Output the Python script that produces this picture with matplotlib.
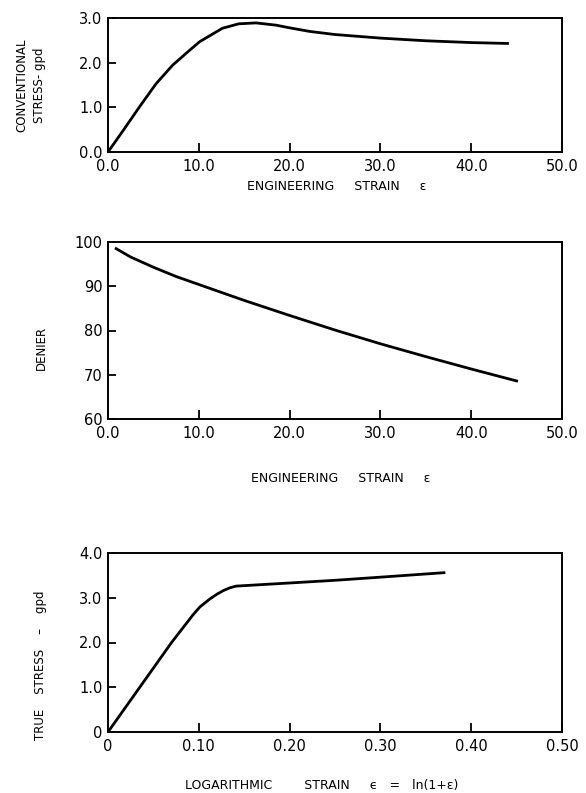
import matplotlib
matplotlib.use("Agg")
import matplotlib.pyplot as plt
import numpy as np

# top panel: conventional stress vs engineering strain
eng_strain = [0, 1.7, 3.5, 5.3, 7.1, 9.0, 10.1, 12.6, 14.4, 16.3, 18.5, 20, 22.2, 25, 30, 35, 40, 44]
conv_stress = [0, 0.49, 1.02, 1.53, 1.94, 2.28, 2.47, 2.77, 2.87, 2.89, 2.84, 2.78, 2.70, 2.63, 2.55, 2.49, 2.45, 2.43]

# middle panel: denier vs engineering strain
den_strain = [0.9, 2.5, 5, 7.5, 10, 15, 20, 25, 30, 35, 40, 45]
denier = [98.5, 96.6, 94.3, 92.2, 90.4, 86.8, 83.4, 80.1, 77.0, 74.1, 71.3, 68.6]

# bottom panel: true stress vs logarithmic strain
log_strain = [0, 0.035, 0.07, 0.0937, 0.101, 0.112, 0.12, 0.127, 0.134, 0.141, 0.2, 0.25, 0.3, 0.37]
true_stress = [0, 1.0, 2.0, 2.62, 2.79, 2.97, 3.08, 3.16, 3.22, 3.26, 3.33, 3.39, 3.46, 3.56]

fig = plt.figure(figsize=(5.86, 7.93), dpi=100)
W, H = 586, 793

def make_ax(left, top, right, bottom):
    return fig.add_axes([left / W, 1 - bottom / H, (right - left) / W, (bottom - top) / H])

def style(ax):
    for s in ax.spines.values():
        s.set_linewidth(1.4)
    ax.tick_params(axis="x", direction="in", length=6.5, width=1.3, pad=5, labelsize=10.5)
    ax.tick_params(axis="y", direction="in", length=5.5, width=1.3, pad=4, labelsize=10.5)

ax1 = make_ax(108, 18, 562, 152)
ax1.plot(eng_strain, conv_stress, color="black", lw=2)
ax1.set_xlim(0, 50)
ax1.set_ylim(0, 3.0)
ax1.set_xticks([0, 10, 20, 30, 40, 50])
ax1.set_xticklabels(["0.0", "10.0", "20.0", "30.0", "40.0", "50.0"])
ax1.set_yticks([0, 1, 2, 3])
ax1.set_yticklabels(["0.0", "1.0", "2.0", "3.0"])
style(ax1)
fig.text(31 / W, 1 - 85 / H, "CONVENTIONAL\nSTRESS- gpd", rotation=90, ha="center", va="center",
         fontsize=8.5, linespacing=1.5)
fig.text(337 / W, 1 - 187 / H, "ENGINEERING     STRAIN     ε", ha="center", va="center", fontsize=9)

ax2 = make_ax(108, 242, 562, 419)
ax2.plot(den_strain, denier, color="black", lw=2)
ax2.set_xlim(0, 50)
ax2.set_ylim(60, 100)
ax2.set_xticks([0, 10, 20, 30, 40, 50])
ax2.set_xticklabels(["0.0", "10.0", "20.0", "30.0", "40.0", "50.0"])
ax2.set_yticks([60, 70, 80, 90, 100])
style(ax2)
fig.text(41 / W, 1 - 348 / H, "DENIER", rotation=90, ha="center", va="center", fontsize=8.5)
fig.text(341 / W, 1 - 478 / H, "ENGINEERING     STRAIN     ε", ha="center", va="center", fontsize=9)

ax3 = make_ax(108, 553, 562, 732)
ax3.plot(log_strain, true_stress, color="black", lw=2)
ax3.set_xlim(0, 0.5)
ax3.set_ylim(0, 4.0)
ax3.set_xticks([0, 0.1, 0.2, 0.3, 0.4, 0.5])
ax3.set_xticklabels(["0", "0.10", "0.20", "0.30", "0.40", "0.50"])
ax3.set_yticks([0, 1, 2, 3, 4])
ax3.set_yticklabels(["0", "1.0", "2.0", "3.0", "4.0"])
style(ax3)
fig.text(41 / W, 1 - 665 / H, "TRUE    STRESS    –    gpd", rotation=90, ha="center", va="center", fontsize=8.5)
fig.text(322 / W, 1 - 785 / H, "LOGARITHMIC        STRAIN     ϵ   =   ln(1+ε)", ha="center", va="center", fontsize=9)

fig.savefig("out.png", dpi=100)
